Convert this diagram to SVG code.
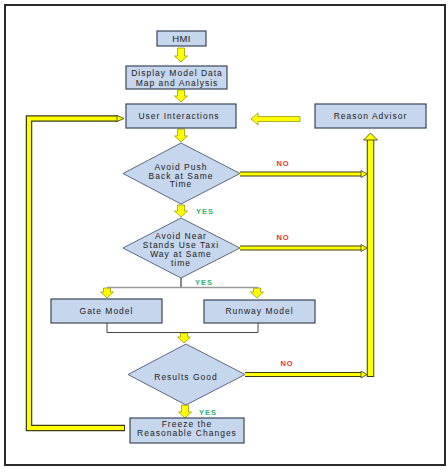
<svg xmlns="http://www.w3.org/2000/svg" width="448" height="472" viewBox="0 0 448 472">
<style>
.box{fill:#c6d6ec;stroke:#3a4658;stroke-width:1.2}
.dia{fill:#c6d6ec;stroke:#5a6a80;stroke-width:1}
.t{font-family:"Liberation Sans",Arial,sans-serif;font-size:8.5px;fill:#222;letter-spacing:1px;text-anchor:middle}
.no{font-family:"Liberation Sans",Arial,sans-serif;font-size:7.5px;font-weight:bold;fill:#e8322f;letter-spacing:1px;text-anchor:middle}
.yes{font-family:"Liberation Sans",Arial,sans-serif;font-size:7.5px;font-weight:bold;fill:#2fb56f;letter-spacing:1px;text-anchor:middle}
.blk{fill:#ffff00;stroke:#9a9a10;stroke-width:0.8}
.barO{fill:none;stroke:#3c3c10;stroke-linejoin:miter}
.barI{fill:none;stroke:#ffff00;stroke-linejoin:miter}
.head{fill:#ffff00;stroke:#3c3c10;stroke-width:0.8}
.thin{fill:none;stroke:#444;stroke-width:1}
</style>
<rect x="5" y="5" width="440" height="460" fill="#fff" stroke="#2a2a2a" stroke-width="2"/>

<g id="connectors">
  <polygon class="blk" points="177.5,48 184.5,48 184.5,56 187.5,56 181,62 174.5,56 177.5,56"/>
  <polygon class="blk" points="177.5,90 184.5,90 184.5,96 187.5,96 181,102 174.5,96 177.5,96"/>
  <polygon class="blk" points="177.5,129 184.5,129 184.5,136 187.5,136 181,142 174.5,136 177.5,136"/>
  <polygon class="blk" points="177.5,205 184.5,205 184.5,211 187.5,211 181,217 174.5,211 177.5,211"/>
  <polygon class="blk" points="103.5,288 110.5,288 110.5,292 113.5,292 107,298 100.5,292 103.5,292"/>
  <polygon class="blk" points="253.5,288 260.5,288 260.5,292 263.5,292 257,298 250.5,292 253.5,292"/>
  <polygon class="blk" points="180.5,333 187.5,333 187.5,337 190.5,337 184,343 177.5,337 180.5,337"/>
  <polygon class="blk" points="181.5,405 188.5,405 188.5,412 191.5,412 185,418 178.5,412 181.5,412"/>
  <polygon class="blk" points="300,116.5 258,116.5 258,113 251,119 258,125 258,121.5 300,121.5"/>

  <line x1="181" y1="278" x2="181" y2="288" stroke="#111" stroke-width="1"/>
  <line x1="107" y1="287.5" x2="258" y2="287.5" stroke="#9a9a9a" stroke-width="1.5"/>
  <polyline class="thin" points="107,323 107,332.5 258,332.5 258,323"/>

  <polyline class="barO" stroke-width="6.5" points="125,428 29,428 29,118.5 118,118.5"/>
  <polyline class="barI" stroke-width="4" points="124,428 29,428 29,118.5 118,118.5"/>
  <polygon class="head" points="117,115.5 124,118.5 117,121.5"/>

  <line x1="240" y1="174" x2="362" y2="174" stroke="#3c3c10" stroke-width="5"/>
  <line x1="240" y1="174" x2="362" y2="174" stroke="#ffff00" stroke-width="3"/>
  <polygon class="head" points="361,170.5 367,174 361,177.5"/>
  <line x1="240" y1="248" x2="362" y2="248" stroke="#3c3c10" stroke-width="5"/>
  <line x1="240" y1="248" x2="362" y2="248" stroke="#ffff00" stroke-width="3"/>
  <polygon class="head" points="361,244.5 367,248 361,251.5"/>
  <line x1="245" y1="374.5" x2="362" y2="374.5" stroke="#3c3c10" stroke-width="5"/>
  <line x1="245" y1="374.5" x2="362" y2="374.5" stroke="#ffff00" stroke-width="3"/>
  <polygon class="head" points="361,371 367,374.5 361,378"/>

  <line x1="370.5" y1="377" x2="370.5" y2="139" stroke="#3c3c10" stroke-width="7.5"/>
  <line x1="370.5" y1="376" x2="370.5" y2="139" stroke="#ffff00" stroke-width="5.5"/>
  <polygon class="head" points="363.5,140 370.5,133 377.5,140"/>
</g>

<g id="hmi"><rect class="box" x="157" y="31" width="49" height="15"/><text class="t" x="181.5" y="42" style="font-size:9.5px;letter-spacing:0.3px">HMI</text></g>
<g id="display"><rect class="box" x="126" y="66" width="101" height="23"/><text class="t" x="177" y="75.5">Display Model Data</text><text class="t" x="177" y="85.5">Map and Analysis</text></g>
<g id="user"><rect class="box" x="126" y="104" width="110" height="24"/><text class="t" x="179" y="119">User Interactions</text></g>
<g id="reason"><rect class="box" x="315" y="104" width="111" height="24"/><text class="t" x="370.5" y="119">Reason Advisor</text></g>
<g id="d1"><polygon class="dia" points="181,143 240,173.5 181,204 123,173.5"/><text class="t" x="181" y="169.5">Avoid Push</text><text class="t" x="181" y="178.5">Back at Same</text><text class="t" x="181" y="187">Time</text></g>
<g id="d2"><polygon class="dia" points="181,218 240,248 181,278 123,248"/><text class="t" x="181" y="238.5">Avoid Near</text><text class="t" x="181" y="247.5">Stands Use Taxi</text><text class="t" x="181" y="256.5">Way at Same</text><text class="t" x="181" y="265.5">time</text></g>
<g id="gate"><rect class="box" x="51" y="299" width="111" height="24"/><text class="t" x="106.5" y="314">Gate Model</text></g>
<g id="runway"><rect class="box" x="204" y="300" width="111" height="23"/><text class="t" x="259.5" y="314">Runway Model</text></g>
<g id="d3"><polygon class="dia" points="186,344 245,374.5 186,405 128,374.5"/><text class="t" x="186" y="380">Results Good</text></g>
<g id="freeze"><rect class="box" x="130" y="418" width="114" height="25"/><text class="t" x="187" y="427">Freeze the</text><text class="t" x="187" y="436">Reasonable Changes</text></g>

<g id="labels">
  <text class="no" x="283" y="166">NO</text>
  <text class="no" x="283" y="240">NO</text>
  <text class="no" x="287" y="366">NO</text>
  <text class="yes" x="205" y="214">YES</text>
  <text class="yes" x="204" y="285">YES</text>
  <text class="yes" x="208" y="415">YES</text>
</g>
</svg>
